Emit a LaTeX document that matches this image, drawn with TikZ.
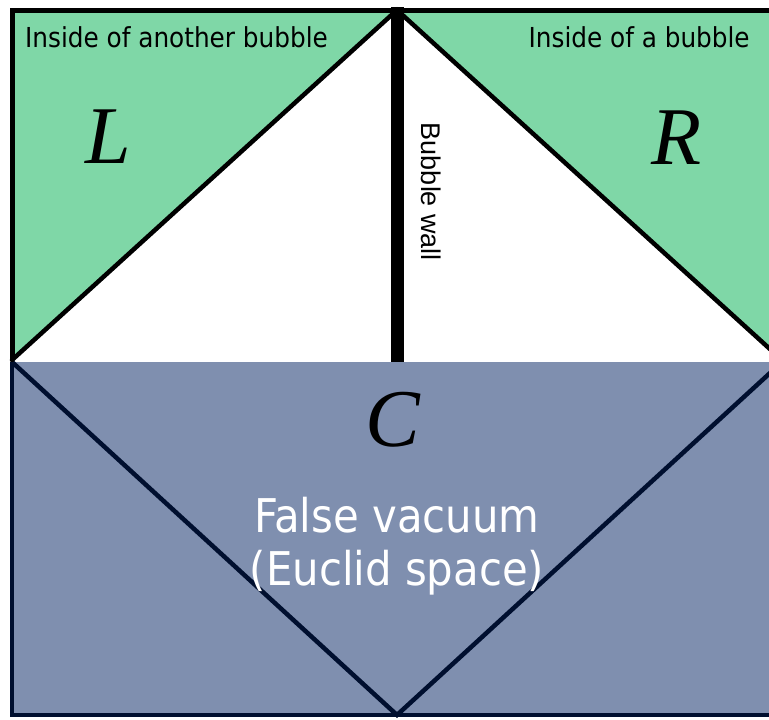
\documentclass[tikz,border=0pt]{standalone}
\usepackage{fontspec}
\setmainfont{DejaVu Sans Condensed}
\setsansfont{Liberation Sans}
\newfontfamily\letterfont{Liberation Serif}
\definecolor{bubblegreen}{HTML}{7FD7A7}
\definecolor{vacuumblue}{HTML}{7F8FAF}
\definecolor{darknavy}{HTML}{000F2F}

\begin{document}
\begin{tikzpicture}[x=1pt,y=-1pt]
% Styles
\tikzset{
    wallline/.style={black, line width=13pt},
    coneline/.style={black, line width=4.5pt, line cap=round, line join=miter},
    vline/.style={darknavy, line width=4.5pt, line join=miter},
    smalllabel/.style={inner sep=0pt, font=\fontsize{27.5}{30}\selectfont},
    biglabel/.style={inner sep=0pt, text=white, font=\fontsize{46.5}{50}\selectfont},
    regionlabel/.style={inner sep=0pt, anchor=base, font=\letterfont\itshape\fontsize{82}{84}\selectfont}
}
\useasboundingbox (0,0) rectangle (769,720);
\clip (0,0) rectangle (769,720);
% Corner points
\coordinate (tl) at (12,10);
\coordinate (tm) at (397,10);
\coordinate (tr) at (782,10);
\coordinate (ml) at (12,360);
\coordinate (mr) at (782,360);
\coordinate (bl) at (12,715);
\coordinate (bm) at (397,715);
\coordinate (br) at (782,715);
% Regions
\fill[bubblegreen] (tl) -- (tm) -- (ml) -- cycle;
\fill[bubblegreen] (tm) -- (tr) -- (mr) -- cycle;
\fill[vacuumblue] (12,362) rectangle (br);
% Light cones
\draw[vline] (12,362) -- (bm) -- (782,362);
\draw[coneline] (ml) -- (tm) -- (mr);
% Frame
\draw[vline] (12,362) -- (bl) -- (br);
\draw[black, line width=5pt] (ml) -- (tl) -- (tr);
% Bubble wall
\draw[wallline] (397,7) -- (397,362);
% Labels
\node[smalllabel, anchor=base west] (another) at (25,47) {Inside of another bubble};
\node[smalllabel, anchor=base east] (inside) at (750,47) {Inside of a bubble};
\node[regionlabel] (L) at (108,163) {L};
\node[regionlabel] (R) at (677,164) {R};
\node[regionlabel] (C) at (393,446) {C};
\node[inner sep=0pt, rotate=-90, font=\sffamily\fontsize{27}{29}\selectfont] (wall) at (431,192) {Bubble wall};
\node[biglabel, anchor=base] (false) at (397,532) {False vacuum};
\node[biglabel, anchor=base] (euclid) at (397,585) {(Euclid space)};
\end{tikzpicture}
\end{document}
